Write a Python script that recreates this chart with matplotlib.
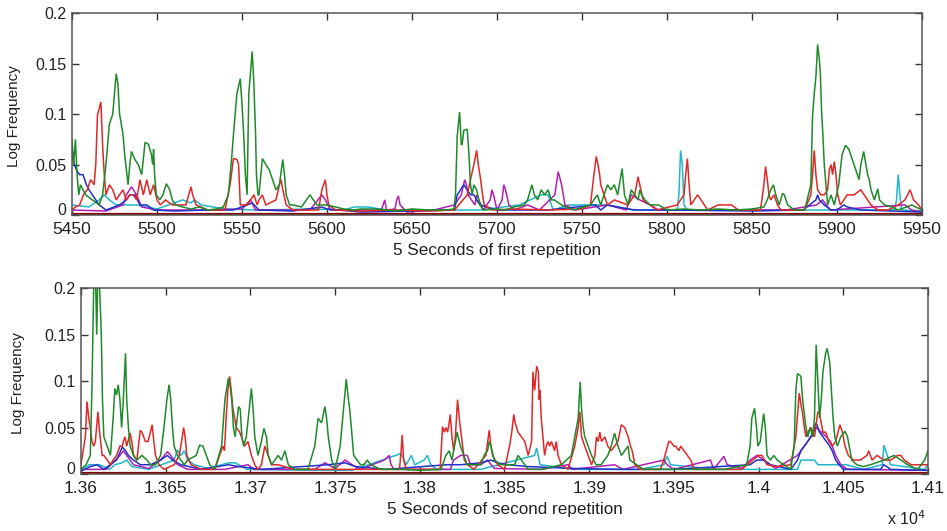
import matplotlib
matplotlib.use("Agg")
import matplotlib.pyplot as plt
import matplotlib.transforms as mtransforms
import numpy as np

plt.rcParams['font.family'] = ['Liberation Sans', 'DejaVu Sans']

# ---------------- data: (sample index, log frequency) ----------------
# Top panel: first repetition
top_green = [(5450,0.075),(5451,0.05),(5452,0.075),(5453,0.04),(5454,0.02),(5455,0.03),(5458,0.02),(5462,0.015),
    (5466,0.01),(5468,0.02),(5470,0.05),(5472,0.09),(5474,0.1),(5476,0.14),(5477,0.13),(5478,0.1),(5480,0.08),
    (5481,0.06),(5483,0.03),(5484,0.05),(5485,0.063),(5487,0.055),(5489,0.05),(5491,0.04),(5493,0.072),(5495,0.07),
    (5496.7,0.06),(5497.5,0.05),(5498,0.065),(5498.6,0.04),(5499.6,0.02),(5501.6,0.015),(5503.5,0.02),(5505.5,0.031),
    (5507.5,0.025),(5509,0.015),(5511,0.01),(5515,0.008),(5520,0.006),(5525,0.008),(5530,0.005),(5535,0.006),
    (5539,0.008),(5542,0.02),(5544,0.058),(5545,0.08),(5547,0.12),(5549,0.135),(5550,0.11),(5551,0.08),(5552,0.04),
    (5553,0.02),(5554,0.12),(5556,0.162),(5557,0.13),(5558,0.08),(5558.5,0.04),(5559.4,0.02),(5560,0.02),(5562,0.056),
    (5564,0.05),(5566,0.045),(5568,0.035),(5570,0.025),(5572,0.03),(5574,0.055),(5575,0.04),(5576,0.02),(5578,0.01),
    (5580,0.01),(5585,0.008),(5590,0.02),(5592,0.015),(5594,0.01),(5597,0.01),(5600,0.01),(5605,0.008),(5610,0.006),
    (5615,0.005),(5620,0.006),(5630,0.006),(5640,0.004),(5650,0.006),(5660,0.005),(5670,0.005),(5674.6,0.006),
    (5675.6,0.02),(5676.6,0.078),(5678,0.102),(5679,0.07),(5679.5,0.07),(5680.5,0.084),(5682.5,0.085),(5683.5,0.06),
    (5684.4,0.03),(5685.4,0.02),(5686.4,0.03),(5688,0.025),(5690,0.01),(5692,0.005),(5700,0.006),(5705,0.005),
    (5710,0.008),(5716,0.01),(5718,0.015),(5720.5,0.03),(5722,0.02),(5724,0.015),(5726,0.025),(5728,0.02),(5730,0.025),
    (5732,0.015),(5733.7,0.015),(5738,0.01),(5745,0.005),(5755,0.01),(5759,0.02),(5761,0.01),(5765,0.03),(5767,0.025),
    (5769,0.03),(5771,0.02),(5773.6,0.046),(5775,0.02),(5777,0.01),(5779,0.025),(5781,0.02),(5783,0.015),(5784,0.025),
    (5785,0.02),(5787,0.015),(5790,0.01),(5795,0.01),(5800,0.005),(5810,0.006),(5820,0.005),(5830,0.006),(5840,0.005),
    (5850,0.006),(5857,0.008),(5859,0.015),(5861,0.025),(5862.6,0.03),(5864,0.02),(5866,0.01),(5868,0.0215),(5869,0.02),
    (5871,0.01),(5875,0.005),(5881,0.005),(5884.6,0.03),(5885.6,0.0975),(5886.6,0.12),(5887.6,0.137),(5888.6,0.169),
    (5889.6,0.154),(5890.2,0.14),(5891,0.1),(5891.7,0.08),(5892.5,0.05),(5893.5,0.03),(5894.5,0.01),(5896.5,0.02),
    (5898.4,0.01),(5901,0.03),(5903,0.06),(5905,0.069),(5907,0.065),(5909,0.055),(5911,0.045),(5913,0.035),(5914,0.05),
    (5915.7,0.063),(5917,0.05),(5918,0.04),(5919,0.035),(5920,0.025),(5922,0.015),(5924,0.026),(5925,0.015),(5928,0.01),
    (5932,0.008),(5936,0.005),(5944,0.01),(5950,0.005)]

top_red = [(5450,0.005),(5452,0.008),(5454.5,0.01),(5457,0.021),(5459,0.025),(5461,0.035),(5463,0.03),(5464,0.05),
    (5465,0.099),(5467,0.112),(5468,0.07),(5469,0.04),(5470,0.02),(5471,0.025),(5472,0.03),(5474,0.025),(5476,0.015),
    (5478,0.02),(5480,0.025),(5482,0.015),(5484,0.02),(5486,0.02),(5488,0.015),(5490,0.035),(5492,0.02),(5494,0.035),
    (5496,0.02),(5498,0.03),(5500,0.015),(5502,0.01),(5505,0.015),(5509,0.01),(5513,0.01),(5517,0.01),(5520,0.028),
    (5521,0.02),(5523,0.01),(5530,0.005),(5540,0.005),(5543,0.03),(5545,0.056),(5547,0.055),(5548,0.05),(5549,0.01),
    (5553,0.01),(5555,0.015),(5557,0.02),(5559,0.01),(5560,0.015),(5562,0.02),(5564,0.01),(5570,0.015),(5572,0.03),
    (5573,0.035),(5574,0.025),(5576,0.01),(5580,0.005),(5595,0.005),(5597,0.025),(5599,0.035),(5600,0.02),(5601,0.01),
    (5605,0.005),(5620,0.004),(5640,0.005),(5660,0.004),(5675,0.005),(5682.5,0.02),(5686.4,0.05),(5688,0.064),
    (5689,0.05),(5690.4,0.035),(5691.5,0.02),(5692.5,0.01),(5697,0.005),(5710,0.006),(5730,0.005),(5750,0.006),
    (5755,0.01),(5757,0.04),(5758.4,0.058),(5759.4,0.05),(5760.4,0.04),(5761,0.03),(5763,0.02),(5765,0.01),(5769,0.015),
    (5777,0.01),(5781,0.02),(5783,0.038),(5784,0.03),(5786,0.015),(5790,0.01),(5794,0.005),(5806,0.01),(5810,0.02),
    (5811,0.04),(5812,0.056),(5813,0.03),(5814,0.01),(5816,0.015),(5818,0.02),(5820,0.015),(5824,0.005),(5830,0.01),
    (5834,0.01),(5838,0.01),(5842,0.005),(5855,0.005),(5857,0.03),(5858,0.048),(5859,0.035),(5860,0.02),(5861,0.015),
    (5863,0.02),(5865,0.01),(5867,0.005),(5881,0.005),(5884.6,0.02),(5885.6,0.04),(5886.6,0.064),(5887.6,0.04),
    (5888.6,0.025),(5890.5,0.02),(5892.5,0.02),(5894.5,0.025),(5895.5,0.045),(5896.5,0.05),(5897.4,0.04),(5898.4,0.053),
    (5899.4,0.04),(5900.4,0.02),(5902,0.01),(5904,0.015),(5906,0.02),(5910,0.02),(5914,0.025),(5916,0.02),(5918,0.015),
    (5920,0.01),(5924,0.005),(5930,0.005),(5936,0.01),(5940,0.015),(5943,0.025),(5945,0.015),(5948,0.01),(5950,0.005)]

top_blue = [(5450,0.058),(5452.5,0.045),(5454.5,0.04),(5456.5,0.04),(5458.5,0.03),(5460,0.025),(5462,0.02),(5464,0.015),
    (5466,0.01),(5470,0.005),(5478,0.01),(5482,0.015),(5484,0.02),(5487,0.02),(5490,0.01),(5494,0.01),(5498,0.005),
    (5510,0.004),(5530,0.005),(5545,0.005),(5553,0.01),(5556,0.012),(5560,0.005),(5580,0.004),(5597,0.008),(5600,0.006),
    (5620,0.003),(5650,0.004),(5675,0.005),(5676.6,0.02),(5680.5,0.03),(5682.5,0.025),(5684.4,0.02),(5686.4,0.02),
    (5688,0.015),(5690,0.01),(5694,0.008),(5700,0.005),(5730,0.005),(5758,0.01),(5761,0.005),(5765,0.01),(5771,0.008),
    (5781,0.005),(5800,0.005),(5850,0.004),(5880,0.005),(5887.6,0.015),(5888.6,0.02),(5889.6,0.015),(5892.5,0.01),
    (5896.5,0.005),(5900,0.005),(5904,0.01),(5906,0.008),(5914,0.005),(5950,0.003)]

top_cyan = [(5450,0.01),(5460,0.008),(5466,0.015),(5469,0.02),(5472,0.015),(5476,0.01),(5488,0.01),(5500,0.006),
    (5510,0.012),(5515,0.015),(5520,0.012),(5522,0.015),(5526,0.01),(5540,0.006),(5560,0.005),(5590,0.006),(5610,0.005),
    (5616,0.008),(5624,0.008),(5635,0.005),(5690,0.005),(5713,0.01),(5726,0.02),(5730,0.02),(5733,0.005),(5742,0.01),
    (5752,0.01),(5765,0.01),(5780,0.005),(5806,0.005),(5807,0.02),(5808,0.064),(5809,0.05),(5810,0.01),(5812,0.005),
    (5934,0.005),(5935,0.015),(5936,0.04),(5937,0.02),(5938,0.005),(5950,0.004)]

top_magenta = [(5450,0.005),(5470,0.004),(5480,0.01),(5482,0.02),(5485,0.028),(5488,0.02),(5491,0.008),(5500,0.005),
    (5525,0.005),(5550,0.006),(5555,0.015),(5558,0.005),(5590,0.005),(5597,0.02),(5599,0.015),(5602,0.005),(5632,0.005),
    (5634,0.015),(5635,0.005),(5640,0.006),(5641,0.015),(5642,0.019),(5643,0.01),(5647,0.003),(5663,0.005),(5675,0.01),
    (5679,0.02),(5681,0.035),(5682,0.03),(5683,0.02),(5687,0.01),(5688,0.02),(5692,0.005),(5696,0.015),(5697,0.025),
    (5698,0.02),(5700,0.005),(5703,0.015),(5704,0.03),(5705,0.025),(5707,0.01),(5710,0.005),(5718,0.01),(5725,0.005),
    (5734,0.02),(5736,0.043),(5738,0.03),(5740,0.01),(5746,0.005),(5765,0.01),(5776,0.005),(5779,0.02),(5784,0.015),
    (5790,0.01),(5795,0.005),(5808,0.005),(5870,0.005),(5888,0.01),(5891.5,0.015),(5896,0.005),(5940,0.01),(5944,0.005),
    (5950,0.003)]

top_base = [(5450,0.0015),(5700,0.0015),(5950,0.0015)]

# Bottom panel: second repetition
bot_green = [(13600,0.005),(13603,0.01),(13605.5,0.02),(13606.5,0.094),(13607.5,0.2),(13608.5,0.22),(13609.3,0.15),
    (13610,0.22),(13611,0.2),(13612,0.15),(13612.7,0.08),(13613.5,0.04),(13615.5,0.03),(13617.4,0.02),(13619,0.06),
    (13620,0.092),(13621,0.085),(13622,0.096),(13623,0.08),(13624,0.05),(13625,0.08),(13626.3,0.13),(13627,0.08),
    (13628,0.05),(13629,0.03),(13631,0.02),(13633,0.015),(13636,0.02),(13639,0.015),(13641,0.01),(13644,0.01),
    (13647,0.02),(13649,0.05),(13650.7,0.08),(13652,0.096),(13653,0.08),(13654,0.05),(13655,0.03),(13657,0.02),
    (13659,0.015),(13661,0.01),(13663,0.015),(13668,0.02),(13670,0.031),(13672,0.03),(13674,0.02),(13676,0.01),
    (13679,0.005),(13683,0.03),(13685,0.08),(13687,0.103),(13688,0.095),(13689,0.08),(13690,0.05),(13691,0.04),
    (13693,0.0725),(13694,0.07),(13695,0.04),(13696,0.03),(13697.6,0.04),(13699.6,0.075),(13700.6,0.092),(13701.6,0.07),
    (13702.6,0.04),(13704.5,0.02),(13706.5,0.035),(13708,0.049),(13709.5,0.04),(13710.5,0.02),(13712.5,0.01),
    (13716.4,0.02),(13718.4,0.015),(13720.4,0.025),(13722.4,0.01),(13726,0.005),(13734,0.005),(13738,0.03),(13740,0.06),
    (13742,0.055),(13744,0.0725),(13745,0.06),(13746,0.04),(13748,0.015),(13750,0.005),(13753,0.03),(13755,0.07),
    (13756.6,0.102),(13757.6,0.085),(13758.6,0.07),(13759.6,0.05),(13761,0.02),(13763,0.015),(13765,0.01),(13767,0.01),
    (13769,0.015),(13771,0.01),(13777,0.005),(13790,0.005),(13800,0.004),(13812.5,0.005),(13815.4,0.02),(13817.4,0.025),
    (13819,0.015),(13821,0.035),(13822,0.045),(13824,0.03),(13826,0.02),(13828,0.01),(13836,0.01),(13838,0.02),
    (13840,0.025),(13841,0.035),(13842,0.03),(13844,0.015),(13848,0.01),(13856,0.01),(13858,0.02),(13860,0.015),
    (13864,0.005),(13872,0.005),(13883.6,0.01),(13889.5,0.02),(13891.5,0.04),(13893.5,0.06),(13894.7,0.099),
    (13895.5,0.07),(13896.5,0.05),(13897.4,0.04),(13899.4,0.03),(13901.4,0.02),(13904,0.01),(13907,0.01),(13911,0.02),
    (13913,0.03),(13915,0.044),(13917,0.03),(13919,0.02),(13921,0.025),(13923,0.03),(13924,0.015),(13928,0.01),
    (13932,0.005),(13944,0.005),(13960,0.005),(13980,0.005),(13993,0.01),(13995,0.03),(13996,0.06),(13997.6,0.0707),
    (13998.8,0.05),(13999.6,0.03),(14001,0.035),(14002,0.05),(14003,0.065),(14004,0.05),(14005,0.02),(14007,0.015),
    (14009,0.02),(14011,0.015),(14015,0.01),(14019,0.005),(14021,0.03),(14022,0.09),(14023,0.108),(14025,0.105),
    (14026,0.08),(14027,0.065),(14028,0.05),(14029,0.04),(14030.5,0.05),(14032,0.04),(14033,0.06),(14034,0.139),
    (14035,0.1),(14036,0.06),(14037,0.08),(14038,0.11),(14039.6,0.13),(14040.5,0.135),(14042,0.12),(14043,0.09),
    (14044,0.06),(14045,0.04),(14046.5,0.03),(14048.5,0.04),(14051,0.046),(14052.5,0.04),(14054,0.025),(14055,0.015),
    (14058,0.01),(14062,0.008),(14066,0.01),(14074,0.015),(14080,0.02),(14084,0.015),(14088,0.01),(14094,0.005),
    (14098,0.015),(14100,0.025)]

bot_red = [(13600,0.01),(13602.6,0.04),(13603.6,0.078),(13604.6,0.06),(13605.5,0.05),(13606.5,0.035),(13607.5,0.03),
    (13608.5,0.035),(13610,0.067),(13611,0.045),(13612.5,0.02),(13613.5,0.02),(13615.5,0.015),(13617.4,0.01),
    (13619,0.015),(13621,0.02),(13623,0.03),(13624.4,0.03),(13625,0.035),(13626,0.04),(13627,0.03),(13629,0.044),
    (13630,0.035),(13631,0.02),(13633,0.015),(13635,0.047),(13636,0.045),(13637,0.04),(13638,0.035),(13639.6,0.035),
    (13641,0.045),(13642,0.053),(13643,0.035),(13644,0.02),(13646,0.01),(13649,0.005),(13655,0.01),(13658,0.02),
    (13659.4,0.035),(13660.6,0.05),(13661.5,0.04),(13662.5,0.02),(13665,0.01),(13671,0.005),(13679,0.005),
    (13681.8,0.02),(13683.8,0.03),(13684.7,0.025),(13685.7,0.06),(13686.7,0.09),(13687.7,0.105),(13688.7,0.09),
    (13689.7,0.07),(13690.7,0.06),(13691.7,0.05),(13693.7,0.045),(13694.7,0.04),(13696.6,0.03),(13698.6,0.035),
    (13700.6,0.02),(13702.6,0.01),(13704.5,0.005),(13706.5,0.01),(13708.5,0.03),(13710.5,0.02),(13712.5,0.01),
    (13716.4,0.01),(13726,0.005),(13750,0.005),(13770,0.005),(13788,0.005),(13789,0.025),(13789.6,0.042),
    (13790.5,0.015),(13792,0.005),(13812,0.005),(13812.5,0.02),(13813.4,0.051),(13814.4,0.045),(13815.4,0.05),
    (13816.4,0.045),(13817.4,0.056),(13818,0.064),(13819,0.04),(13820,0.025),(13821,0.04),(13822.3,0.08),
    (13823.3,0.06),(13824.3,0.045),(13825.3,0.03),(13826.3,0.015),(13828.3,0.01),(13832,0.005),(13839,0.02),
    (13841,0.047),(13842,0.03),(13843,0.02),(13846,0.01),(13850,0.005),(13853,0.03),(13854.3,0.045),(13855.5,0.064),
    (13856.3,0.055),(13858,0.045),(13860,0.04),(13862,0.035),(13864,0.02),(13866,0.035),(13866.8,0.11),(13867.8,0.09),
    (13869,0.116),(13870,0.11),(13870.5,0.08),(13871,0.09),(13871.7,0.06),(13872.7,0.04),(13873.7,0.02),(13874.7,0.03),
    (13875.7,0.035),(13876.7,0.03),(13877.7,0.035),(13879.6,0.025),(13880.6,0.035),(13881.6,0.02),(13883.6,0.01),
    (13887.5,0.005),(13891.5,0.03),(13893.5,0.05),(13894.5,0.067),(13895.5,0.04),(13897.4,0.03),(13899.4,0.02),
    (13901.4,0.01),(13903.4,0.02),(13904.3,0.04),(13905.3,0.035),(13906.3,0.045),(13907.3,0.035),(13909.3,0.04),
    (13911,0.03),(13913,0.025),(13915,0.03),(13917,0.035),(13919,0.053),(13921,0.05),(13923,0.04),(13924.4,0.03),
    (13925.4,0.025),(13927,0.01),(13930,0.005),(13942,0.005),(13944,0.015),(13947,0.035),(13948,0.035),(13950,0.03),
    (13951,0.03),(13953,0.025),(13954,0.03),(13956,0.025),(13958,0.02),(13960,0.015),(13962,0.005),(13975,0.005),
    (13990,0.005),(14000,0.02),(14002,0.02),(14005,0.01),(14011,0.008),(14019,0.01),(14022,0.04),(14024,0.087),
    (14025,0.075),(14026,0.065),(14027,0.05),(14028,0.04),(14029,0.045),(14031,0.05),(14033,0.04),(14035,0.067),
    (14036,0.065),(14038,0.045),(14039.6,0.045),(14041.5,0.035),(14043.5,0.03),(14045.5,0.035),(14048,0.053),
    (14049.5,0.045),(14051,0.03),(14053,0.02),(14056,0.015),(14060,0.015),(14064,0.02),(14065,0.025),(14067,0.015),
    (14070,0.02),(14074,0.015),(14078,0.015),(14082,0.02),(14084,0.02),(14086,0.015),(14090,0.01),(14094,0.01),
    (14100,0.01)]

bot_blue = [(13600,0.003),(13605.5,0.008),(13609.5,0.01),(13613.5,0.005),(13621,0.015),(13624.4,0.029),
    (13626.3,0.025),(13628,0.02),(13631,0.015),(13635,0.01),(13641,0.01),(13647,0.015),(13651,0.02),(13654,0.015),
    (13659,0.01),(13671,0.005),(13687,0.01),(13693,0.008),(13707,0.005),(13746,0.01),(13756,0.012),(13762,0.008),
    (13780,0.005),(13816,0.01),(13824,0.01),(13836,0.012),(13842,0.015),(13846,0.012),(13852,0.01),(13864,0.008),
    (13891,0.006),(13919,0.005),(13950,0.005),(13995,0.01),(13999,0.015),(14003,0.015),(14007,0.01),(14019,0.005),
    (14023,0.015),(14025,0.025),(14027,0.03),(14029,0.035),(14032,0.044),(14034,0.055),(14036,0.045),(14038,0.04),
    (14040,0.035),(14042,0.03),(14043.5,0.025),(14045.5,0.015),(14047.5,0.01),(14050,0.005),(14072,0.005),(14074,0.01),
    (14078,0.005),(14100,0.004)]

bot_cyan = [(13600,0.005),(13605,0.01),(13611,0.01),(13617,0.005),(13620,0.01),(13624,0.012),(13627,0.015),
    (13630,0.008),(13640,0.005),(13655,0.015),(13657,0.026),(13659,0.02),(13661,0.025),(13663,0.015),(13667,0.01),
    (13675,0.006),(13687,0.012),(13691,0.012),(13698,0.005),(13740,0.004),(13760,0.004),(13789,0.022),(13792,0.01),
    (13795,0.02),(13797,0.01),(13802.6,0.015),(13804.5,0.02),(13806.5,0.01),(13810,0.005),(13836,0.005),(13867.8,0.02),
    (13869,0.028),(13871,0.01),(13891,0.005),(13907,0.005),(13930,0.005),(13944,0.01),(13946,0.019),(13948,0.01),
    (13975,0.005),(14023,0.005),(14025,0.015),(14029,0.015),(14033,0.015),(14035,0.01),(14052,0.01),(14062,0.005),
    (14073,0.01),(14074,0.031),(14076,0.02),(14078,0.01),(14098,0.005),(14100,0.01)]

bot_magenta = [(13600,0.005),(13615,0.005),(13623,0.02),(13625,0.025),(13627,0.02),(13631,0.01),(13640,0.006),
    (13647,0.015),(13651,0.024),(13653,0.02),(13657,0.01),(13663,0.005),(13685,0.005),(13698.6,0.01),(13702,0.005),
    (13738,0.005),(13744,0.012),(13750,0.006),(13756,0.015),(13760,0.01),(13765,0.005),(13779,0.015),(13782,0.02),
    (13783,0.01),(13785,0.005),(13818,0.005),(13820,0.015),(13824,0.02),(13828,0.02),(13830,0.01),(13836,0.01),
    (13840,0.015),(13844,0.006),(13872,0.005),(13887.5,0.01),(13890,0.005),(13915,0.01),(13920,0.005),(13944,0.015),
    (13946,0.01),(13950,0.005),(13971.6,0.015),(13973.5,0.005),(13979.5,0.019),(13981.5,0.01),(13990,0.006),
    (13995,0.015),(13999,0.02),(14003,0.015),(14010,0.006),(14023,0.02),(14031,0.04),(14034,0.05),(14037,0.045),
    (14040,0.04),(14042.5,0.035),(14045.5,0.02),(14048.5,0.01),(14052.5,0.005),(14100,0.004)]

bot_base = [(13600,0.0015),(13850,0.0015),(14100,0.0015)]

top_ticks = [5450, 5500, 5550, 5600, 5650, 5700, 5750, 5800, 5850, 5900, 5950]
bot_ticks = [13600, 13650, 13700, 13750, 13800, 13850, 13900, 13950, 14000, 14050, 14100]
bot_ticklabels = ['1.36', '1.365', '1.37', '1.375', '1.38', '1.385', '1.39', '1.395', '1.4', '1.405', '1.41']
y_ticks = [0, 0.05, 0.1, 0.15, 0.2]
y_ticklabels = ['0', '0.05', '0.1', '0.15', '0.2']

colors = {'cyan': '#20b8c8', 'magenta': '#b020b0', 'blue': '#2030c8',
          'red': '#e02828', 'green': '#1f8a2a', 'base': '#8b0000'}

fig = plt.figure(figsize=(9.47, 5.31), dpi=100)
ax1 = fig.add_axes([0.076, 0.595, 0.8976, 0.3804])
ax2 = fig.add_axes([0.0855, 0.1073, 0.8944, 0.3503])


def draw(ax, series, xlim, ticks, ticklabels, xlabel, ylab_x):
    for name, pts in series:
        x, y = zip(*pts)
        ax.plot(x, y, color=colors[name], lw=1.1 if name != 'base' else 1.6, solid_joinstyle='miter')
    ax.set_xlim(*xlim)
    ax.set_ylim(0, 0.2)
    ax.set_xticks(ticks)
    ax.set_xticklabels(ticklabels)
    ax.set_yticks(y_ticks)
    ax.set_yticklabels(y_ticklabels)
    ax.tick_params(direction='in', top=True, right=True, length=5, width=1,
                   colors='#333333', labelcolor='#222222')
    ax.tick_params(axis='x', labelsize=12.5, pad=5)
    ax.tick_params(axis='y', labelsize=11.5, pad=4)
    for s in ax.spines.values():
        s.set_color('#555555')
        s.set_linewidth(1.1)
    ax.set_xlabel(xlabel, fontsize=12.3, color='#222222', labelpad=4)
    ax.set_ylabel('Log Frequency', fontsize=11, color='#222222')
    ax.yaxis.set_label_coords(ylab_x, 0.49)
    # the "0" label sits slightly above the axis bottom, clear of the first x label
    zero_label = ax.get_yticklabels()[0]
    zero_label.set_transform(zero_label.get_transform() +
                             mtransforms.ScaledTranslation(0, 4 / 72, fig.dpi_scale_trans))


draw(ax1, [('cyan', top_cyan), ('magenta', top_magenta), ('blue', top_blue), ('red', top_red),
           ('green', top_green), ('base', top_base)],
     (5450, 5950), top_ticks, [str(t) for t in top_ticks], '5 Seconds of first repetition', -0.060)
draw(ax2, [('cyan', bot_cyan), ('magenta', bot_magenta), ('blue', bot_blue), ('red', bot_red),
           ('green', bot_green), ('base', bot_base)],
     (13600, 14100), bot_ticks, bot_ticklabels, '5 Seconds of second repetition', -0.066)

fig.text(0.937, 0.006, r'x 10$^{4}$', fontsize=11.5, color='#222222', ha='left', va='bottom')

fig.savefig('out.png', dpi=100)
